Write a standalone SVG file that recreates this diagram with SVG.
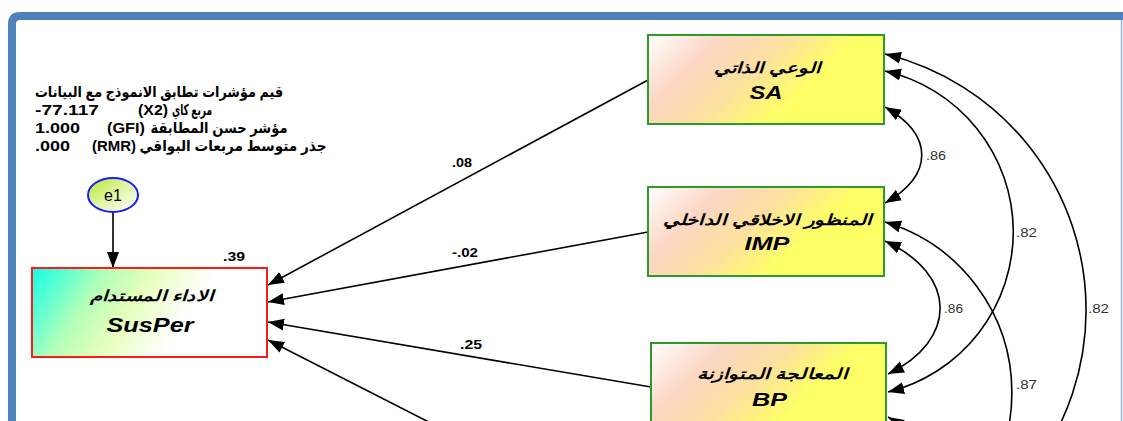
<svg xmlns="http://www.w3.org/2000/svg" width="1123" height="421" viewBox="0 0 1123 421">
<style>
.t{font-family:"Liberation Sans","DejaVu Sans",sans-serif;fill:#000}
.b{font-weight:bold}
.bi{font-weight:bold;font-style:italic}
.lab{font-family:"Liberation Sans","DejaVu Sans",sans-serif;font-weight:bold;font-size:12.5px;fill:#000}
.cov{font-family:"Liberation Sans","DejaVu Sans",sans-serif;font-size:13px;fill:#333}
.ln{fill:none;stroke:#000;stroke-width:1.6}
.box{stroke:#2e9a2e;stroke-width:2;fill:url(#gBox)}
</style>
<defs>
<marker id="ah" markerUnits="userSpaceOnUse" markerWidth="17" markerHeight="13" viewBox="0 0 17 13" refX="16" refY="6.5" orient="auto-start-reverse">
<path d="M0,0.5 L16,6.5 L0,12.5 z" fill="#000"/>
</marker>
<linearGradient id="gSus" x1="0" y1="0" x2="1" y2="0.25">
<stop offset="0" stop-color="#10ffe8"/>
<stop offset="0.3" stop-color="#b0ffb8"/>
<stop offset="0.5" stop-color="#e6ffbc"/>
<stop offset="0.75" stop-color="#ffffff"/>
<stop offset="1" stop-color="#ffffff"/>
</linearGradient>
<linearGradient id="gBox" x1="0" y1="0" x2="1" y2="0.4">
<stop offset="0" stop-color="#ffffff"/>
<stop offset="0.28" stop-color="#fcd6c4"/>
<stop offset="0.52" stop-color="#fde0a0"/>
<stop offset="0.78" stop-color="#ffff66"/>
<stop offset="1" stop-color="#ffff66"/>
</linearGradient>
<linearGradient id="gE1" x1="0" y1="0" x2="1" y2="1">
<stop offset="0" stop-color="#b4e62c"/>
<stop offset="0.5" stop-color="#e2f6a4"/>
<stop offset="1" stop-color="#ffffff"/>
</linearGradient>
</defs>
<rect width="1123" height="421" fill="#fff"/>
<g id="frame">
<path d="M12,421 V24 Q12,16 20,16 H1123" fill="none" stroke="#4f81bd" stroke-width="8"/>
<line x1="1121.5" y1="20" x2="1121.5" y2="421" stroke="#95b3d7" stroke-width="1.5"/>
</g>
<g id="fit-stats" class="t b" font-size="14">
<text x="159" y="97" font-size="15" text-anchor="middle" textLength="248" lengthAdjust="spacingAndGlyphs">قيم مؤشرات تطابق الانموذج مع البيانات</text>
<text x="35" y="115" textLength="64" lengthAdjust="spacingAndGlyphs">-77.117</text>
<text x="138" y="115" textLength="30" lengthAdjust="spacingAndGlyphs">(X2)</text>
<text x="192" y="115" font-size="15" text-anchor="middle" textLength="40" lengthAdjust="spacingAndGlyphs">مربع كاي</text>
<text x="35" y="133" textLength="45" lengthAdjust="spacingAndGlyphs">1.000</text>
<text x="107" y="133" textLength="38" lengthAdjust="spacingAndGlyphs">(GFI)</text>
<text x="219" y="133" font-size="15" text-anchor="middle" textLength="137" lengthAdjust="spacingAndGlyphs">مؤشر حسن المطابقة</text>
<text x="35" y="151" textLength="35" lengthAdjust="spacingAndGlyphs">.000</text>
<text x="92" y="151" textLength="44" lengthAdjust="spacingAndGlyphs">(RMR)</text>
<text x="233" y="151" font-size="15" text-anchor="middle" textLength="187" lengthAdjust="spacingAndGlyphs">جذر متوسط مربعات البواقي</text>
</g>
<g id="connectors">
<path class="ln" d="M113,212 L113,268" marker-end="url(#ah)"/>
<path class="ln" d="M648,80 L268,285" marker-end="url(#ah)"/>
<path class="ln" d="M648,232 L268,302" marker-end="url(#ah)"/>
<path class="ln" d="M651,387 L268,322" marker-end="url(#ah)"/>
<path class="ln" d="M660,540 L268,340" marker-end="url(#ah)"/>
<path class="ln" d="M885,107 C934,135 934,175 885,203" marker-start="url(#ah)" marker-end="url(#ah)"/>
<path class="ln" d="M885,241 C958,275 958,340 888,374" marker-start="url(#ah)" marker-end="url(#ah)"/>
<path class="ln" d="M885,71 A165,165 0 0 1 888,392" marker-start="url(#ah)" marker-end="url(#ah)"/>
<path class="ln" d="M885,54 A263.5,263.5 0 0 1 885,566" marker-start="url(#ah)" marker-end="url(#ah)"/>
<path class="ln" d="M885,222 A178,178 0 0 1 885,563" marker-start="url(#ah)" marker-end="url(#ah)"/>
<path class="ln" d="M888,417 A60,60 0 0 1 888,520" marker-start="url(#ah)" marker-end="url(#ah)"/>
<text class="lab" x="452" y="167" textLength="20" lengthAdjust="spacingAndGlyphs">.08</text>
<text class="lab" x="452" y="257" textLength="26" lengthAdjust="spacingAndGlyphs">-.02</text>
<text class="lab" x="460" y="349" textLength="22" lengthAdjust="spacingAndGlyphs">.25</text>
<text class="lab" x="223" y="261" textLength="22" lengthAdjust="spacingAndGlyphs">.39</text>
<text class="cov" x="926" y="160" textLength="20" lengthAdjust="spacingAndGlyphs">.86</text>
<text class="cov" x="1016" y="237" textLength="21" lengthAdjust="spacingAndGlyphs">.82</text>
<text class="cov" x="944" y="313" textLength="19" lengthAdjust="spacingAndGlyphs">.86</text>
<text class="cov" x="1088" y="313" textLength="21" lengthAdjust="spacingAndGlyphs">.82</text>
<text class="cov" x="1016" y="389" textLength="21" lengthAdjust="spacingAndGlyphs">.87</text>
</g>
<g id="e1">
<ellipse cx="113" cy="195" rx="25" ry="17" fill="url(#gE1)" stroke="#1a1aff" stroke-width="2"/>
<text class="t" x="113" y="200.5" font-size="16" text-anchor="middle">e1</text>
</g>
<g id="SusPer">
<rect x="32" y="268" width="235" height="89" fill="url(#gSus)" stroke="#ff1a1a" stroke-width="2"/>
<text class="t bi" x="151.5" y="301" font-size="15" text-anchor="middle" textLength="123" lengthAdjust="spacingAndGlyphs">الاداء المستدام</text>
<text class="t bi" x="150" y="332" font-size="20" text-anchor="middle" textLength="87" lengthAdjust="spacingAndGlyphs">SusPer</text>
</g>
<g id="SA">
<rect class="box" x="648" y="35" width="236" height="89"/>
<text class="t bi" x="767" y="73" font-size="15" text-anchor="middle" textLength="107" lengthAdjust="spacingAndGlyphs">الوعي الذاتي</text>
<text class="t bi" x="766" y="99" font-size="19" text-anchor="middle" textLength="33" lengthAdjust="spacingAndGlyphs">SA</text>
</g>
<g id="IMP">
<rect class="box" x="648" y="187" width="236" height="89"/>
<text class="t bi" x="767" y="225" font-size="15" text-anchor="middle" textLength="209" lengthAdjust="spacingAndGlyphs">المنظور الاخلاقي الداخلي</text>
<text class="t bi" x="767" y="250" font-size="19" text-anchor="middle" textLength="45" lengthAdjust="spacingAndGlyphs">IMP</text>
</g>
<g id="BP">
<rect class="box" x="651" y="343" width="235" height="89"/>
<text class="t bi" x="772" y="379" font-size="15" text-anchor="middle" textLength="150" lengthAdjust="spacingAndGlyphs">المعالجة المتوازنة</text>
<text class="t bi" x="769.5" y="406" font-size="19" text-anchor="middle" textLength="35" lengthAdjust="spacingAndGlyphs">BP</text>
</g>
</svg>
